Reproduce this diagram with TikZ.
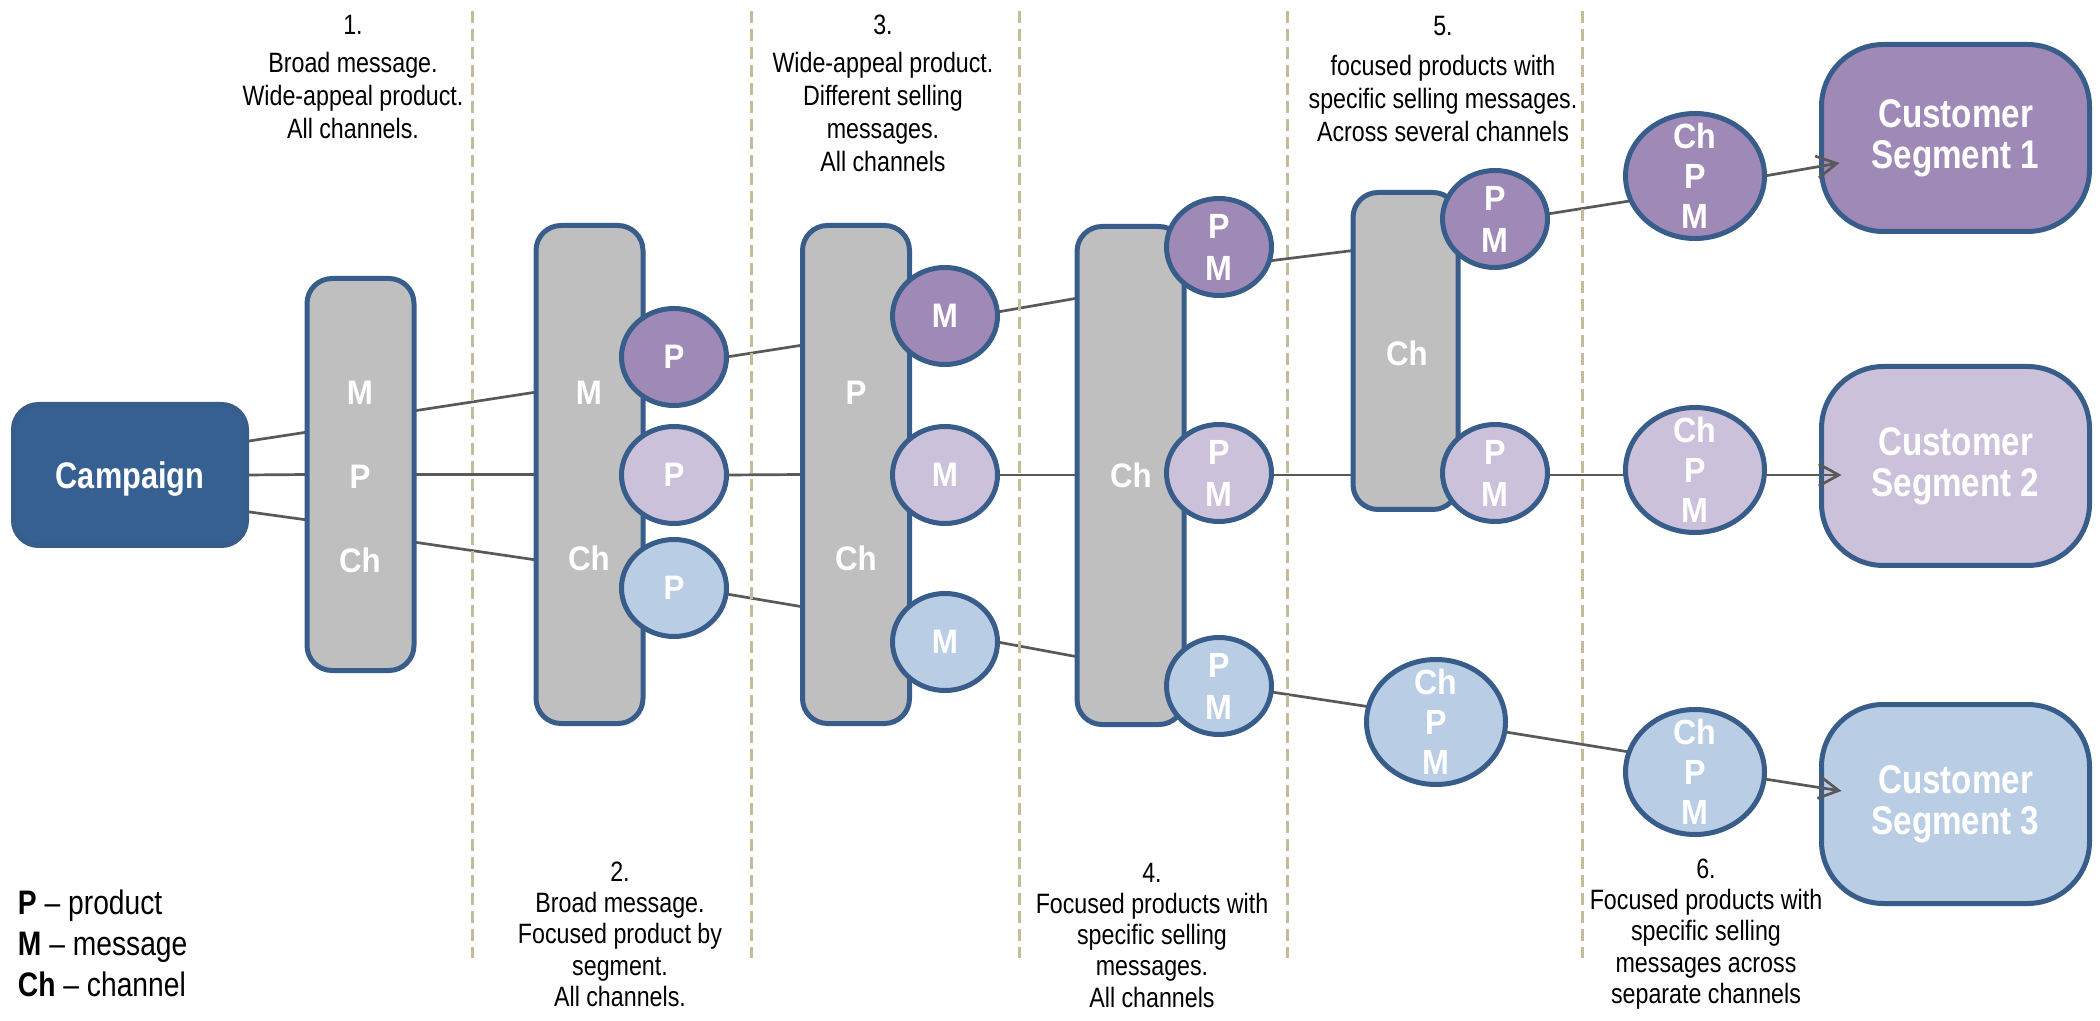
\documentclass[tikz,border=0pt]{standalone}
\usepackage{fontspec}
\setmainfont{Liberation Sans}
\newfontfamily\nfont[FakeStretch=0.83]{Liberation Sans}
\newfontfamily\mfont[FakeStretch=0.92]{Liberation Sans}
\usetikzlibrary{calc,arrows.meta,shapes.geometric}
\pgfdeclarelayer{background}
\pgfsetlayers{background,main}
\definecolor{boxgray}{HTML}{BFBFBF}
\definecolor{edgeblue}{HTML}{385D8A}
\definecolor{campblue}{HTML}{376092}
\definecolor{purp}{HTML}{9F89B7}
\definecolor{lpurp}{HTML}{CCC1DA}
\definecolor{lblue}{HTML}{B9CDE5}
\definecolor{conncol}{HTML}{595959}
\definecolor{divcol}{HTML}{C4BD97}
\begin{document}
\begin{tikzpicture}[x=0.5pt,y=-0.5pt,
  every node/.style={inner sep=0pt,outer sep=0pt},
  bar/.style={draw=edgeblue,line width=2.5pt,fill=boxgray,rounded corners=12.5pt,minimum width=53.5pt},
  smoval/.style={ellipse,draw=edgeblue,line width=2.5pt,minimum width=52.5pt,minimum height=48.5pt},
  bigoval/.style={ellipse,draw=edgeblue,line width=2.5pt,minimum width=69.5pt,minimum height=62.5pt},
  seg/.style={draw=edgeblue,line width=2.5pt,rounded corners=31pt,minimum width=134pt,text=white,align=center,
    font={\nfont\bfseries\fontsize{20}{20.5}\selectfont}},
  inlbl/.style={text=white,font={\mfont\bfseries\fontsize{17}{20.5}\selectfont}},
  pmlbl/.style={text=white,align=center,font={\mfont\bfseries\fontsize{17.5}{21}\selectfont}},
  cpmlbl/.style={text=white,align=center,font={\mfont\bfseries\fontsize{17.5}{20}\selectfont}},
  topnote/.style={anchor=north,align=center,font={\nfont\fontsize{14}{16.5}\selectfont}},
  botnote/.style={anchor=north,align=center,font={\nfont\fontsize{14}{15.6}\selectfont}},
  conn/.style={draw=conncol,line width=1.35pt},
  arr/.style={draw=conncol,line width=1.35pt,-{Straight Barb[length=10pt,width=11pt]}},
  divider/.style={draw=divcol,line width=1.5pt,dash pattern=on 6pt off 3pt}
]
\useasboundingbox (0,0) rectangle (2100,1021);

% dividers
\foreach \xx in {472,751,1019,1287,1582}{
  \draw[divider] (\xx,11) -- (\xx,958);
}

% campaign
\node[draw=edgeblue,line width=2.5pt,fill=campblue,rounded corners=12.5pt,minimum width=116.5pt,minimum height=70.5pt,
  text=white,font={\nfont\bfseries\fontsize{18.5}{20}\selectfont},text depth=0pt] (camp) at (130,475) {Campaign};

% bars
\node[bar,minimum height=196pt] (b1) at (360.5,474.5) {};
\node[bar,minimum height=249pt] (b2) at (589.5,474.5) {};
\node[bar,minimum height=249pt] (b3) at (856,474.5) {};
\node[bar,minimum height=249pt] (b4) at (1130.5,475.5) {};
\node[bar,minimum height=158.5pt,minimum width=52.5pt] (b5) at (1405.5,351) {};

% bar labels
\node[inlbl] (b1m) at (360,393) {M};
\node[inlbl] (b1p) at (360,477) {P};
\node[inlbl] (b1c) at (360,560) {Ch};
\node[inlbl] (b2m) at (589,393) {M};
\node[inlbl] (b2c) at (589,558) {Ch};
\node[inlbl] (b3p) at (856,393) {P};
\node[inlbl] (b3c) at (856,558) {Ch};
\node[inlbl] (b4c) at (1131,475) {Ch};
\node[inlbl] (b5c) at (1407,353) {Ch};

% ovals column 2
\node[smoval,fill=purp] (p1) at (674,357) {};
\node[smoval,fill=lpurp] (p2) at (674,475) {};
\node[smoval,fill=lblue] (p3) at (674,588) {};
\node[inlbl] (p1t) at (p1) {P};
\node[inlbl] (p2t) at (p2) {P};
\node[inlbl] (p3t) at (p3) {P};
% ovals column 3
\node[smoval,fill=purp] (m1) at (945,316) {};
\node[smoval,fill=lpurp] (m2) at (945,475) {};
\node[smoval,fill=lblue] (m3) at (945,642) {};
\node[inlbl] (m1t) at (m1) {M};
\node[inlbl] (m2t) at (m2) {M};
\node[inlbl] (m3t) at (m3) {M};
% ovals column 4
\node[smoval,fill=purp] (pm1) at (1219,247) {};
\node[smoval,fill=lpurp] (pm2) at (1219,473) {};
\node[smoval,fill=lblue] (pm3) at (1219,686) {};
\node[pmlbl] (pm1t) at (pm1) {P\\M};
\node[pmlbl] (pm2t) at (pm2) {P\\M};
\node[pmlbl] (pm3t) at (pm3) {P\\M};
% ovals column 5
\node[smoval,fill=purp] (q1) at (1495,219) {};
\node[smoval,fill=lpurp] (q2) at (1495,473) {};
\node[pmlbl] (q1t) at (q1) {P\\M};
\node[pmlbl] (q2t) at (q2) {P\\M};
\node[bigoval,fill=lblue] (x1) at (1436,722) {};
\node[cpmlbl] (x1t) at (x1) {Ch\\P\\M};
% ovals column 6
\node[bigoval,fill=purp] (y1) at (1695,176) {};
\node[bigoval,fill=lpurp] (y2) at (1695,470) {};
\node[bigoval,fill=lblue] (y3) at (1695,772) {};
\node[cpmlbl] (y1t) at (y1) {Ch\\P\\M};
\node[cpmlbl] (y2t) at (y2) {Ch\\P\\M};
\node[cpmlbl] (y3t) at (y3) {Ch\\P\\M};

% segments
\node[seg,fill=purp,minimum height=93.5pt] (s1) at (1955.5,138) {Customer\\Segment 1};
\node[seg,fill=lpurp,minimum height=99.5pt] (s2) at (1955.5,466) {Customer\\Segment 2};
\node[seg,fill=lblue,minimum height=99.5pt] (s3) at (1955.5,804) {Customer\\Segment 3};

% connectors (behind shapes)
\begin{pgfonlayer}{background}
\draw[conn] ($(camp.east)+(-4,-33)$) -- ($(b1.west)+(4,-43)$);
\draw[conn] (camp.east) -- (b1.west);
\draw[conn] ($(camp.east)+(-4,36)$) -- ($(b1.west)+(4,46)$);
\draw[conn] ($(b1.east)+(-4,-63)$) -- ($(b2.west)+(4,-83)$);
\draw[conn] (b1.east) -- (b2.west);
\draw[conn] ($(b1.east)+(-4,67)$) -- ($(b2.west)+(4,86)$);
\draw[conn] (p1.east) -- ($(b3.west)+(4,-130)$);
\draw[conn] (p2.east) -- (b3.west);
\draw[conn] ($(p3.east)+(0,6)$) -- ($(b3.west)+(4,133)$);
\draw[conn] ($(m1.east)+(0,-4)$) -- ($(b4.west)+(4,-178)$);
\draw[conn] (m2.east) -- ($(b4.west)+(4,-0.5)$);
\draw[conn] (m3.east) -- ($(b4.west)+(4,182)$);
\draw[conn] ($(pm1.east)+(-3,14)$) -- ($(b5.west)+(4,-101)$);
\draw[conn] ($(pm2.east)+(0,2)$) -- ($(b5.west)+(4,124)$);
\draw[conn] ($(pm3.east)+(0,6)$) -- ($(x1.west)+(4,-15)$);
\draw[conn] ($(q1.east)+(0,-5)$) -- ($(y1.west)+(4,25)$);
\draw[conn] ($(q2.east)+(0,2)$) -- ($(y2.west)+(0,5)$);
\draw[conn] ($(x1.east)+(0,10)$) -- ($(y3.west)+(4,-20)$);
\end{pgfonlayer}

% arrows into segments
\draw[arr] (y1.east) -- ($(s1.west)+(18,25)$);
\draw[arr] ($(y2.east)+(0,5)$) -- ($(s2.west)+(20,9)$);
\draw[arr] ($(y3.east)+(0,7)$) -- ($(s3.west)+(20,-13)$);

% notes
\node[topnote] (t1) at (353,15) {1.\\[2.5pt]Broad message.\\Wide-appeal product.\\All channels.};
\node[topnote] (t3) at (883,15) {3.\\[2.5pt]Wide-appeal product.\\Different selling\\messages.\\All channels};
\node[topnote] (t5) at (1443,16) {5.\\[3.5pt]focused products with\\specific selling messages.\\Across several channels};
\node[botnote] (t2) at (620,862) {2.\\Broad message.\\Focused product by\\segment.\\All channels.};
\node[botnote] (t4) at (1152,863) {4.\\Focused products with\\specific selling\\messages.\\All channels};
\node[botnote] (t6) at (1706,859) {6.\\Focused products with\\specific selling\\messages across\\separate channels};

% legend
\node[anchor=north west,align=left,font={\nfont\fontsize{17}{20.5}\selectfont}] (leg) at (18,890)
  {\textbf{P} – product\\\textbf{M} – message\\\textbf{Ch} – channel};
\end{tikzpicture}
\end{document}
